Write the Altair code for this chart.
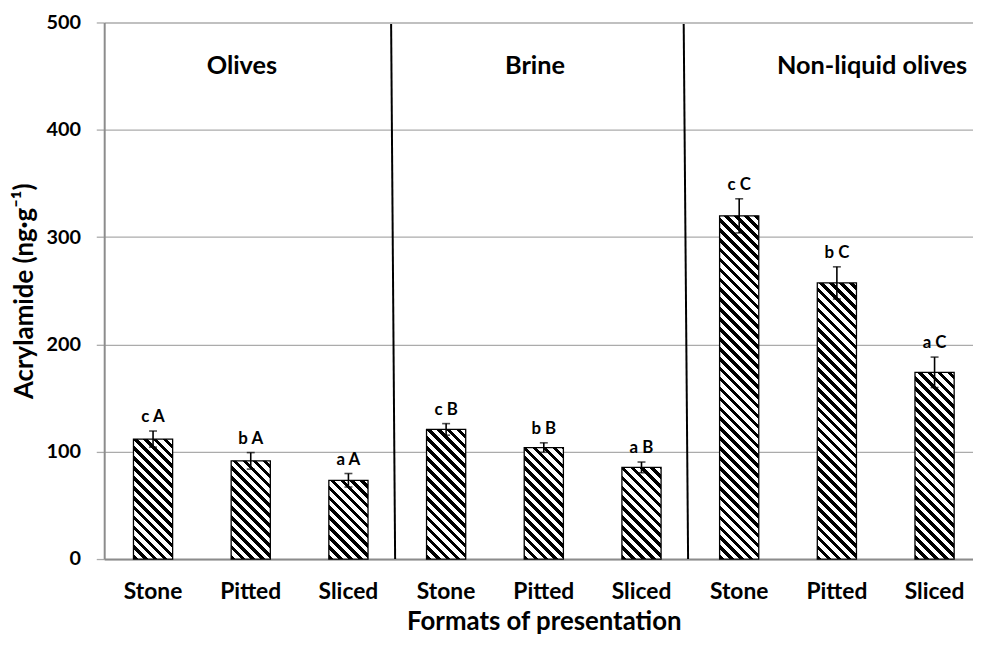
import altair as alt
import pandas as pd

# ---------------- data ----------------
groups = ["Olives"] * 3 + ["Brine"] * 3 + ["Non-liquid olives"] * 3
formats = ["Stone", "Pitted", "Sliced"] * 3
means = [111.8, 91.5, 73.4, 120.8, 103.9, 85.4, 319.8, 257.3, 174.0]
errors = [7.5, 7.7, 6.3, 5.4, 4.4, 5.0, 15.9, 15.0, 14.2]
letters = ["c A", "b A", "a A", "c B", "b B", "a B", "c C", "b C", "a C"]

group_titles = ["Olives", "Brine", "Non-liquid olives"]
group_title_pos = [1.41, 4.41, 7.86]      # position in category units
group_title_value = 451.6
sep_top_pos = [2.937, 5.932]              # separator lines (category units)
sep_bottom_pos = [2.978, 5.977]
sep_top_value = 498.5
sep_bottom_value = 0

y_ticks = [0, 100, 200, 300, 400, 500]

# ---------------- layout / style ----------------
FONT = "Lato"
PLOT_W = 876
PLOT_H = 541
RANGE_W = 886.5
N = len(means)
STEP = RANGE_W / N
PAD_INNER = 0.599
BAR_W = STEP * (1 - PAD_INNER)
Y_MAX = 500

keys = [f"{g}|{f}" for g, f in zip(groups, formats)]
df = pd.DataFrame({
    "key": keys,
    "mean": means,
    "lo": [m - e for m, e in zip(means, errors)],
    "hi": [m + e for m, e in zip(means, errors)],
    "letter": letters,
})
titles_df = pd.DataFrame({"g": group_titles, "gx": group_title_pos,
                          "gy": [group_title_value] * 3})
sep_df = pd.DataFrame({"xt": sep_top_pos, "xb": sep_bottom_pos,
                       "yt": [sep_top_value] * 2, "yb": [sep_bottom_value] * 2})


def hatch(h_px, w_px=BAR_W, period=10.0, black_frac=0.47):
    """Diagonal '\\' stripes as a hard-stop linear gradient (bbox units)."""
    L = w_px + h_px
    s = L / (w_px ** 2 + h_px ** 2)
    stops = []
    c = 0.0
    while c < L - 1e-6:
        a = c / L
        b = min((c + period * black_frac) / L, 1.0)
        e = min((c + period) / L, 1.0)
        stops += [{"offset": a, "color": "black"}, {"offset": b, "color": "black"},
                  {"offset": b, "color": "white"}, {"offset": e, "color": "white"}]
        c += period
    return {"gradient": "linear", "x1": 0, "y1": 1,
            "x2": s * w_px, "y2": 1 - s * h_px, "stops": stops}


Y_TITLE = "Acrylamide (ng·g⁻¹)"
y_scale = alt.Scale(domain=[0, Y_MAX], nice=False, zero=True)
y_axis = alt.Axis(values=y_ticks, grid=True, gridColor="#ababab", gridWidth=1.3,
                  ticks=True, tickColor="#ababab", tickWidth=1.3, tickSize=8,
                  domainColor="#8c8c8c", domainWidth=2,
                  labelFont=FONT, labelFontWeight="bold", labelFontSize=20,
                  labelColor="black", labelPadding=16,
                  titleFont=FONT, titleFontWeight="bold", titleFontSize=26,
                  titleColor="black", titleX=-67, titleY=PLOT_H / 2,
                  titleAngle=270, titleAlign="center", titleBaseline="bottom")

x_band = alt.X("key:N", sort=keys,
               scale=alt.Scale(domain=keys, range=[0, RANGE_W],
                               paddingInner=PAD_INNER, paddingOuter=PAD_INNER / 2),
               axis=alt.Axis(labelExpr="split(datum.label, '|')[1]", labelAngle=0,
                             ticks=False, tickSize=0, grid=False,
                             domainColor="#8c8c8c", domainWidth=2,
                             labelFont=FONT, labelFontWeight="bold", labelFontSize=23,
                             labelColor="black", labelPadding=40,
                             labelBaseline="alphabetic",
                             titleFont=FONT, titleFontWeight="bold", titleFontSize=26,
                             titleColor="black", titleX=RANGE_W / 2, titleY=71,
                             titleBaseline="alphabetic", titleAlign="center"),
               title="Formats of presentation")

base = alt.Chart(df)

bars = []
for k, m in zip(keys, means):
    h_px = m / Y_MAX * PLOT_H
    bars.append(
        base.transform_filter(alt.datum.key == k)
        .mark_bar(fill=hatch(h_px), stroke="black", strokeWidth=1.3)
        .encode(x=x_band, y=alt.Y("mean:Q", scale=y_scale, axis=y_axis, title=Y_TITLE))
    )

err_rule = base.mark_rule(color="black", strokeWidth=1.6).encode(
    x=x_band, y=alt.Y("lo:Q", scale=y_scale, axis=y_axis, title=Y_TITLE), y2="hi:Q")
cap_lo = base.mark_tick(color="black", thickness=1.6, size=8).encode(
    x=x_band, y=alt.Y("lo:Q", scale=y_scale, axis=y_axis, title=Y_TITLE))
cap_hi = base.mark_tick(color="black", thickness=1.6, size=8).encode(
    x=x_band, y=alt.Y("hi:Q", scale=y_scale, axis=y_axis, title=Y_TITLE))
letters_txt = base.mark_text(font=FONT, fontWeight="bold", fontSize=17, dy=-9,
                             baseline="alphabetic", color="black").encode(
    x=x_band, y=alt.Y("hi:Q", scale=y_scale, axis=y_axis, title=Y_TITLE),
    text="letter:N")

band_layer = alt.layer(*bars, err_rule, cap_lo, cap_hi, letters_txt)

x_q = alt.Scale(domain=[0, N], range=[0, RANGE_W], nice=False, zero=False)
seps = alt.Chart(sep_df).mark_rule(color="black", strokeWidth=2).encode(
    x=alt.X("xt:Q", scale=x_q, axis=None), x2="xb:Q",
    y=alt.Y("yt:Q", scale=y_scale, axis=y_axis, title=Y_TITLE), y2="yb:Q")
gtitles = alt.Chart(titles_df).mark_text(font=FONT, fontWeight="bold", fontSize=25.5,
                                         baseline="alphabetic", color="black").encode(
    x=alt.X("gx:Q", scale=x_q, axis=None),
    y=alt.Y("gy:Q", scale=y_scale, axis=y_axis, title=Y_TITLE),
    text="g:N")
quant_layer = alt.layer(seps, gtitles)

chart = (
    alt.layer(band_layer, quant_layer)
    .resolve_scale(x="independent")
    .properties(width=PLOT_W, height=PLOT_H,
                autosize=alt.AutoSizeParams(type="none"),
                padding={"left": 97, "top": 12, "right": 0, "bottom": 76},
                background="white")
    .configure_view(stroke=None)
)

chart.save("out.html", embed_options={"renderer": "svg", "actions": False})
